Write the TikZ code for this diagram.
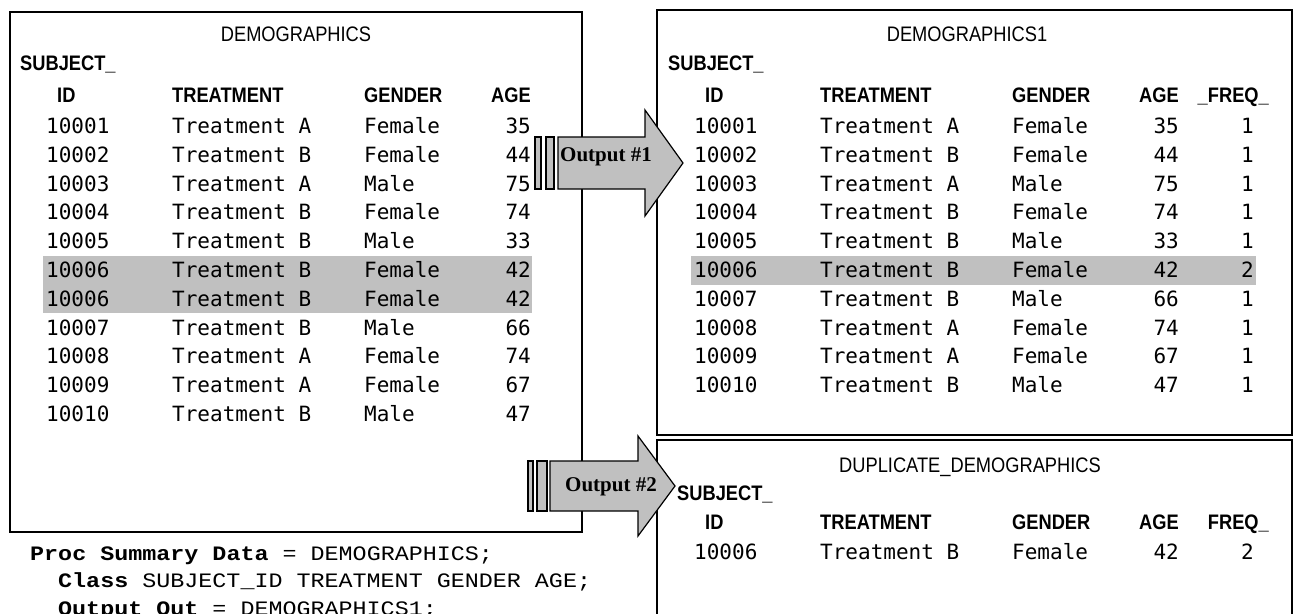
\documentclass[tikz,border=0pt]{standalone}
\usepackage{fontspec}
\setmainfont{Liberation Sans}
\newfontfamily\datafont{DejaVu Sans Mono}
\newfontfamily\hdrfont[FakeStretch=0.87]{Liberation Sans}
\newfontfamily\codefont[FakeStretch=1.14]{Liberation Mono}
\newfontfamily\arrowfont{Liberation Serif}
\definecolor{hlgray}{HTML}{C0C0C0}
\tikzset{
  box/.style={draw=black, line width=1.6pt},
  hlband/.style={fill=hlgray, draw=none},
  tabtitle/.style={font=\hdrfont\fontsize{21}{21}\selectfont, inner sep=0pt, anchor=base},
  hdrW/.style={font=\hdrfont\bfseries\fontsize{21}{21}\selectfont, inner sep=0pt, anchor=base west},
  hdrE/.style={font=\hdrfont\bfseries\fontsize{21}{21}\selectfont, inner sep=0pt, anchor=base east},
  cellW/.style={font=\datafont\fontsize{21}{21}\selectfont, inner sep=0pt, anchor=base west},
  cellE/.style={font=\datafont\fontsize{21}{21}\selectfont, inner sep=0pt, anchor=base east},
  codeline/.style={font=\codefont\fontsize{20.5}{20.5}\selectfont, inner sep=0pt, anchor=base west},
  blockarrow/.style={fill=hlgray, draw=black, line width=1.2pt, line join=miter},
  arrowlabel/.style={font=\arrowfont\bfseries\fontsize{21}{21}\selectfont, inner sep=0pt, anchor=base}
}
\begin{document}
\begin{tikzpicture}[x=1pt,y=-1pt]
\clip (0,0) rectangle (1295,613);
\useasboundingbox (0,0) rectangle (1295,613);

% ---------- left table ----------
\fill[hlband] (43,256) rectangle (532,313);
\draw[box] (10,12) rectangle (582,532);
\node[tabtitle] (ltitle) at (296,41.5) {DEMOGRAPHICS};
\node[hdrW] (lsubj) at (20,70.5) {SUBJECT\_};
\node[hdrW] (lhid) at (57,102.5) {ID};
\node[hdrW] (lhtr) at (172,102.5) {TREATMENT};
\node[hdrW] (lhge) at (364,102.5) {GENDER};
\node[hdrE] (lhag) at (531,102.5) {AGE};
\foreach \id/\tr/\g/\a [count=\i from 0] in {
  10001/A/Female/35, 10002/B/Female/44, 10003/A/Male/75, 10004/B/Female/74,
  10005/B/Male/33, 10006/B/Female/42, 10006/B/Female/42, 10007/B/Male/66,
  10008/A/Female/74, 10009/A/Female/67, 10010/B/Male/47}{
  \pgfmathsetmacro\yb{133.5+28.8*\i}
  \node[cellW] (lid\i) at (46,\yb) {\id};
  \node[cellW] (ltr\i) at (172,\yb) {Treatment \tr};
  \node[cellW] (lge\i) at (364,\yb) {\g};
  \node[cellE] (lag\i) at (531,\yb) {\a};
}

% ---------- right top table ----------
\fill[hlband] (691,256) rectangle (1256,285);
\draw[box] (657,10) rectangle (1292,435);
\node[tabtitle] (rtitle) at (967,41.5) {DEMOGRAPHICS1};
\node[hdrW] (rsubj) at (668,70.5) {SUBJECT\_};
\node[hdrW] (rhid) at (705,102.5) {ID};
\node[hdrW] (rhtr) at (820,102.5) {TREATMENT};
\node[hdrW] (rhge) at (1012,102.5) {GENDER};
\node[hdrE] (rhag) at (1179,102.5) {AGE};
\node[hdrE] (rhfr) at (1269,102.5) {\_FREQ\_};
\foreach \id/\tr/\g/\a/\f [count=\i from 0] in {
  10001/A/Female/35/1, 10002/B/Female/44/1, 10003/A/Male/75/1, 10004/B/Female/74/1,
  10005/B/Male/33/1, 10006/B/Female/42/2, 10007/B/Male/66/1,
  10008/A/Female/74/1, 10009/A/Female/67/1, 10010/B/Male/47/1}{
  \pgfmathsetmacro\yb{133.5+28.8*\i}
  \node[cellW] (rid\i) at (694,\yb) {\id};
  \node[cellW] (rtr\i) at (820,\yb) {Treatment \tr};
  \node[cellW] (rge\i) at (1012,\yb) {\g};
  \node[cellE] (rag\i) at (1179,\yb) {\a};
  \node[cellE] (rfr\i) at (1254,\yb) {\f};
}

% ---------- right bottom table ----------
\draw[box] (657,440) rectangle (1292,650);
\node[tabtitle] (dtitle) at (970,472) {DUPLICATE\_DEMOGRAPHICS};
\node[hdrW] (dsubj) at (677,500) {SUBJECT\_};
\node[hdrW] (dhid) at (705,529.5) {ID};
\node[hdrW] (dhtr) at (820,529.5) {TREATMENT};
\node[hdrW] (dhge) at (1012,529.5) {GENDER};
\node[hdrE] (dhag) at (1179,529.5) {AGE};
\node[hdrE] (dhfr) at (1269,529.5) {FREQ\_};
\node[cellW] (did) at (694,559) {10006};
\node[cellW] (dtr) at (820,559) {Treatment B};
\node[cellW] (dge) at (1012,559) {Female};
\node[cellE] (dag) at (1179,559) {42};
\node[cellE] (dfr) at (1254,559) {2};

% ---------- block arrows ----------
\draw[blockarrow] (535,137) rectangle (541,189);
\draw[blockarrow] (546,137) rectangle (554,189);
\draw[blockarrow] (558,137) -- (645,137) -- (645,110) -- (683,163) -- (645,216) -- (645,189) -- (558,189) -- cycle;
\node[arrowlabel] (out1) at (606,161) {Output \#1};

\draw[blockarrow] (528,461) rectangle (533,511);
\draw[blockarrow] (537,461) rectangle (547,511);
\draw[blockarrow] (550,461) -- (638,461) -- (638,436) -- (675,486) -- (638,536) -- (638,511) -- (550,511) -- cycle;
\node[arrowlabel] (out2) at (611,491) {Output \#2};

% ---------- code ----------
\node[codeline] (c1) at (30,560) {\textbf{Proc Summary Data} = DEMOGRAPHICS;};
\node[codeline] (c2) at (58,587) {\textbf{Class} SUBJECT\_ID TREATMENT GENDER AGE;};
\node[codeline] (c3) at (58,615) {\textbf{Output Out} = DEMOGRAPHICS1;};
\end{tikzpicture}
\end{document}
